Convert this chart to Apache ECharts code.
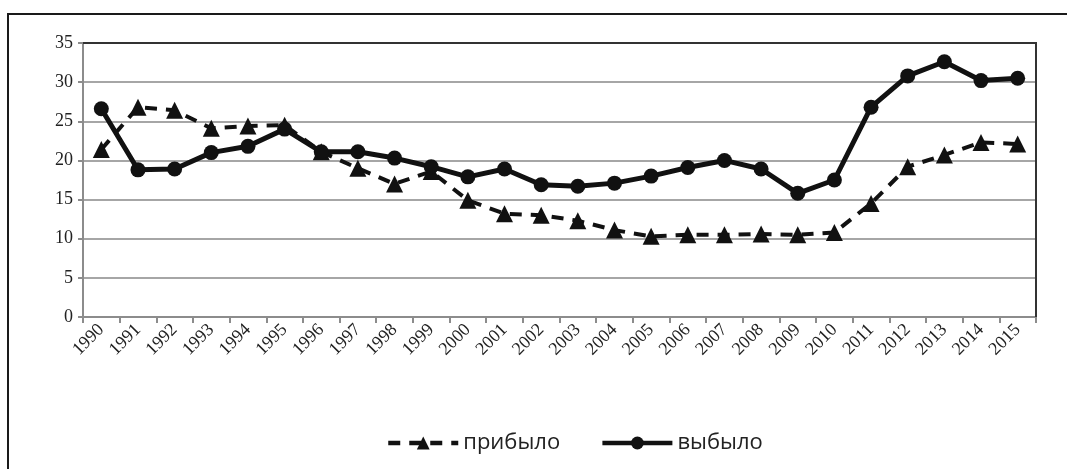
<!DOCTYPE html>
<html>
<head>
<meta charset="utf-8">
<script src="https://cdn.jsdelivr.net/npm/echarts@6/dist/echarts.min.js"></script>
<style>
  html, body { margin: 0; padding: 0; background: #fff; }
  #chart { width: 1067px; height: 469px; }
</style>
</head>
<body>
<div id="chart"></div>
<script>
const years = ['1990', '1991', '1992', '1993', '1994', '1995', '1996', '1997', '1998', '1999',
  '2000', '2001', '2002', '2003', '2004', '2005', '2006', '2007', '2008', '2009',
  '2010', '2011', '2012', '2013', '2014', '2015'];
// прибыло (dashed, triangles)
const arrived = [21.4, 26.8, 26.4, 24.1, 24.4, 24.5, 21.1, 19.0, 17.0, 18.6,
  14.9, 13.2, 13.0, 12.3, 11.1, 10.3, 10.5, 10.5, 10.6, 10.5,
  10.8, 14.5, 19.2, 20.7, 22.3, 22.1];
// выбыло (solid, circles)
const departed = [26.6, 18.8, 18.9, 21.0, 21.8, 24.0, 21.1, 21.1, 20.3, 19.2,
  17.9, 18.9, 16.9, 16.7, 17.1, 18.0, 19.1, 20.0, 18.9, 15.8,
  17.5, 26.8, 30.8, 32.6, 30.2, 30.5];

const serif = '"Liberation Serif", "DejaVu Serif", serif';

const myChart = echarts.init(document.getElementById('chart'));
myChart.setOption({
  animation: false,
  backgroundColor: '#fff',
  graphic: [
    {
      type: 'rect',
      shape: { x: 8, y: 14, width: 1100, height: 500 },
      style: { fill: 'none', stroke: '#1a1a1a', lineWidth: 2 },
      silent: true
    },
    {
      // dark top/right frame of plot area
      type: 'polyline',
      shape: { points: [[83, 43], [1036, 43], [1036, 317]] },
      style: { stroke: '#333', lineWidth: 2, fill: 'none' },
      silent: true,
      z: 10
    }
  ],
  grid: {
    left: 83,
    right: 31,
    top: 43,
    bottom: 152
  },
  legend: {
    bottom: 10,
    left: 381,
    itemWidth: 70,
    itemHeight: 16,
    itemGap: 40,
    lineStyle: { width: 4.5 },
    textStyle: { color: '#222', fontSize: 22, fontFamily: '"Open Sans", "Noto Sans", sans-serif' },
    data: ['прибыло', 'выбыло']
  },
  xAxis: {
    type: 'category',
    boundaryGap: true,
    data: years,
    axisLine: { lineStyle: { color: '#8c8c8c', width: 2 } },
    axisTick: { show: true, interval: 0, length: 6, lineStyle: { color: '#8c8c8c', width: 2 } },
    axisLabel: {
      interval: 0,
      rotate: 45,
      margin: 10,
      color: '#222',
      fontSize: 18,
      fontFamily: serif
    }
  },
  yAxis: {
    type: 'value',
    min: 0,
    max: 35,
    interval: 5,
    axisLine: { show: true, lineStyle: { color: '#8c8c8c', width: 2 } },
    axisTick: { show: true, length: 5, lineStyle: { color: '#8c8c8c', width: 2 } },
    splitLine: { lineStyle: { color: '#a6a6a6', width: 2 } },
    axisLabel: {
      margin: 10,
      color: '#222',
      fontSize: 18,
      fontFamily: serif
    }
  },
  series: [
    {
      name: 'прибыло',
      type: 'line',
      data: arrived,
      symbol: 'triangle',
      symbolSize: 17,
      itemStyle: { color: '#111' },
      lineStyle: { color: '#111', width: 4, type: [12, 9] },
      z: 2
    },
    {
      name: 'выбыло',
      type: 'line',
      data: departed,
      symbol: 'circle',
      symbolSize: 15,
      itemStyle: { color: '#111' },
      lineStyle: { color: '#111', width: 5 },
      z: 3
    }
  ]
});
</script>
</body>
</html>
